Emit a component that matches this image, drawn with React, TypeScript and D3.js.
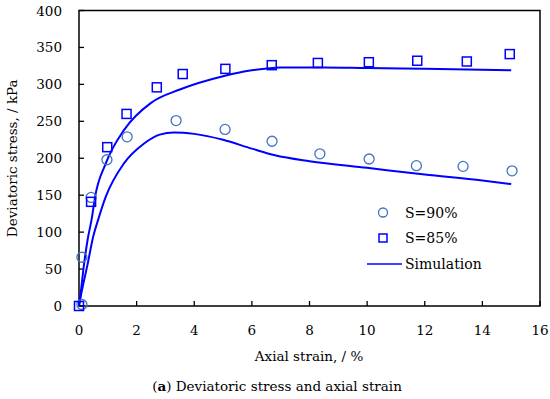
import React, { useRef, useEffect } from 'react';
import * as d3 from 'd3';

// measured points, S=90%
const s90Strain = [0.1, 0.1, 0.42, 0.97, 1.67, 3.37, 5.07, 6.7, 8.36, 10.07, 11.71, 13.33, 15.03];
const s90Stress = [2, 66, 147, 198, 229, 251, 239, 223, 206, 199, 190, 189, 183];

// measured points, S=85%
const s85Strain = [0, 0.42, 0.98, 1.65, 2.7, 3.6, 5.08, 6.69, 8.29, 10.06, 11.74, 13.46, 14.95];
const s85Stress = [0, 141, 215, 260, 296, 314, 321, 326, 329, 330, 332, 331, 341];

// simulation curves
const sim85Strain = [0, 0.05, 0.17, 0.3, 0.45, 0.55, 0.93, 1.56, 2.5, 3.5, 5, 6, 7, 8.5, 10, 12, 15];
const sim85Stress = [0, 15, 55, 90, 120, 146, 193, 238, 275, 293, 311, 319, 323, 323, 322, 321, 319];
const sim90Strain = [0, 0.07, 0.29, 0.5, 0.69, 0.93, 1.56, 2.26, 2.8, 3.3, 4, 5, 6, 6.8, 8, 10, 12, 14, 15];
const sim90Stress = [0, 15, 55, 95, 120, 148, 193, 220, 232, 235, 233, 225, 213, 204, 196, 187, 178, 170, 165];

const xTicks = [0, 2, 4, 6, 8, 10, 12, 14, 16];
const yTicks = [0, 50, 100, 150, 200, 250, 300, 350, 400];

const W = 550;
const H = 399;
const FONT = '"DejaVu Serif", serif';

const App: React.FC = () => {
  const ref = useRef<SVGSVGElement | null>(null);

  useEffect(() => {
    if (!ref.current) return;
    const svg = d3.select<SVGSVGElement, unknown>(ref.current);
    svg.selectAll('*').remove();

    const left = 79, right = 540, top = 10.5, bottom = 306;
    const x = d3.scaleLinear().domain([0, 16]).range([left, right]);
    const y = d3.scaleLinear().domain([0, 400]).range([bottom, top]);

    // frame
    svg.append('rect')
      .attr('x', left).attr('y', top)
      .attr('width', right - left).attr('height', bottom - top)
      .attr('fill', 'none').attr('stroke', '#000').attr('stroke-width', 1.5);

    // x axis ticks (inside)
    xTicks.forEach(t => {
      svg.append('line')
        .attr('x1', x(t)).attr('x2', x(t))
        .attr('y1', bottom).attr('y2', bottom - 5)
        .attr('stroke', '#000').attr('stroke-width', 1.3);
      svg.append('text')
        .attr('x', x(t)).attr('y', bottom + 29)
        .attr('text-anchor', 'middle')
        .style('font-family', FONT).style('font-size', '13.5px')
        .text(t);
    });

    yTicks.forEach(t => {
      svg.append('line')
        .attr('x1', left).attr('x2', left + 5)
        .attr('y1', y(t)).attr('y2', y(t))
        .attr('stroke', '#000').attr('stroke-width', 1.3);
      svg.append('text')
        .attr('x', left - 17).attr('y', y(t) + 5)
        .attr('text-anchor', 'end')
        .style('font-family', FONT).style('font-size', '13.5px')
        .text(t);
    });

    // titles
    svg.append('text')
      .attr('x', 309).attr('y', 361)
      .attr('text-anchor', 'middle')
      .style('font-family', FONT).style('font-size', '13.5px')
      .text('Axial strain, / %');

    svg.append('text')
      .attr('transform', `translate(17, ${(top + bottom) / 2}) rotate(-90)`)
      .attr('text-anchor', 'middle')
      .style('font-family', FONT).style('font-size', '13.5px')
      .text('Deviatoric stress, / kPa');

    const cap = svg.append('text')
      .attr('x', 277).attr('y', 391)
      .attr('text-anchor', 'middle')
      .style('font-family', FONT).style('font-size', '13.5px');
    cap.append('tspan').text('(');
    cap.append('tspan').attr('font-weight', 'bold').text('a');
    cap.append('tspan').text(') Deviatoric stress and axial strain');

    // simulation lines
    const line = d3.line<[number, number]>()
      .x(d => x(d[0]))
      .y(d => y(d[1]))
      .curve(d3.curveMonotoneX);

    [
      d3.zip(sim85Strain, sim85Stress) as [number, number][],
      d3.zip(sim90Strain, sim90Stress) as [number, number][],
    ].forEach(pts => {
      svg.append('path')
        .attr('d', line(pts))
        .attr('fill', 'none')
        .attr('stroke', '#0000ff')
        .attr('stroke-width', 2);
    });

    // markers
    const circleColor = '#4472c4';
    const sqColor = '#0000ff';
    svg.append('g').selectAll('circle')
      .data(d3.zip(s90Strain, s90Stress))
      .enter().append('circle')
      .attr('cx', d => x(d[0])).attr('cy', d => y(d[1]))
      .attr('r', 5)
      .attr('fill', 'none').attr('stroke', circleColor).attr('stroke-width', 1.3);

    svg.append('g').selectAll('rect')
      .data(d3.zip(s85Strain, s85Stress))
      .enter().append('rect')
      .attr('x', d => x(d[0]) - 4.5).attr('y', d => y(d[1]) - 4.5)
      .attr('width', 9).attr('height', 9)
      .attr('fill', 'none').attr('stroke', sqColor).attr('stroke-width', 1.5);

    // legend
    const lg = svg.append('g').style('font-family', FONT).style('font-size', '14px');
    lg.append('circle').attr('cx', 383).attr('cy', 212.5).attr('r', 4.5)
      .attr('fill', 'none').attr('stroke', circleColor).attr('stroke-width', 1.3);
    lg.append('text').attr('x', 405).attr('y', 217.5).text('S=90%');
    lg.append('rect').attr('x', 379).attr('y', 234).attr('width', 8).attr('height', 8)
      .attr('fill', 'none').attr('stroke', sqColor).attr('stroke-width', 1.5);
    lg.append('text').attr('x', 405).attr('y', 243).text('S=85%');
    lg.append('line').attr('x1', 367).attr('x2', 402).attr('y1', 264).attr('y2', 264)
      .attr('stroke', '#0000ff').attr('stroke-width', 1.5);
    lg.append('text').attr('x', 405).attr('y', 269).text('Simulation');
  }, []);

  return (
    <svg
      ref={ref}
      width={W}
      height={H}
      style={{ position: 'absolute', left: 0, top: 0, background: '#fff' }}
    />
  );
};

export default App;
